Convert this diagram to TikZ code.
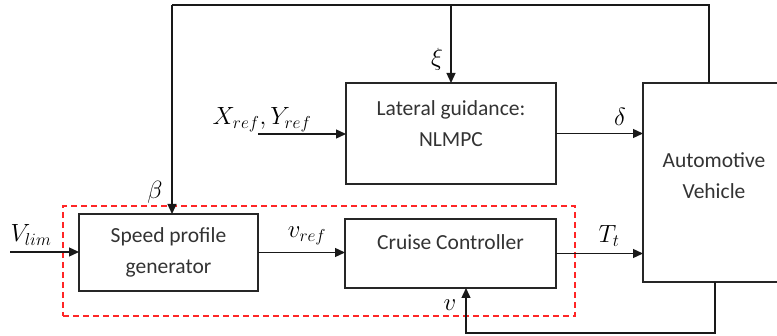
\documentclass[tikz,border=0pt]{standalone}
\usepackage{fontspec}
\setmainfont{Carlito}
\usetikzlibrary{arrows.meta}
\begin{document}
\begin{tikzpicture}[x=1pt,y=-1pt,
  line width=1.3pt,
  every node/.style={inner sep=0pt,outer sep=0pt},
  blk/.style={draw=black!85,line width=1.3pt,rectangle},
  txt/.style={font=\fontsize{21.5}{31}\selectfont,text=black!80,align=center},
  lbl/.style={font=\fontsize{23}{26}\selectfont},
  conn/.style={draw=black!90,line width=1.3pt},
  arr/.style={conn,-{Triangle[length=10pt,width=9pt]}},
  redbox/.style={draw=red!85!white,line width=1.6pt,dash pattern=on 6pt off 4pt}]
\useasboundingbox (0,0) rectangle (777,336);
\clip (0,0) rectangle (777,336);
% blocks
\node[blk,minimum width=179pt,minimum height=77pt,txt] (speed) at (168.5,252.5) {Speed profile\\generator};
\node[blk,minimum width=211pt,minimum height=69pt] (cruise) at (450.5,253.5) {};
\node[blk,minimum width=210pt,minimum height=101pt] (lat) at (451,133.5) {};
\node[blk,minimum width=150pt,minimum height=199pt] (veh) at (718,182.5) {};
\node[txt] (cruisetxt) at (450.5,242) {Cruise Controller};
\node[txt] (lattxt) at (451,124) {Lateral guidance:\\NLMPC};
\node[txt] (vehtxt) at (714,176) {Automotive\\Vehicle};
% dashed group
\node[redbox,minimum width=512pt,minimum height=110pt] (grp) at (319,261) {};
% coordinates
\coordinate (vin) at (10,252);
\coordinate (xin) at (258,134);
\coordinate (tl) at (172,5);
\coordinate (tr) at (709,5);
\coordinate (fbr) at (715,333);
\coordinate (fbl) at (466,333);
% connectors
\draw[arr] (vin) -- (vin -| speed.west);
\draw[arr] (speed.east) -- (speed.east -| cruise.west);
\draw[arr] (cruise.east) -- (cruise.east -| veh.west);
\draw[arr] (xin) -- (xin -| lat.west);
\draw[arr] (lat.east) -- (lat.east -| veh.west);
\draw[conn] (tr |- veh.north) -- (tr) -- (tl);
\draw[arr] (tl) -- (tl |- speed.north);
\draw[arr] (lat.north |- tl) -- (lat.north);
\draw[arr] (fbr |- veh.south) -- (fbr) -- (fbl) -- (fbl |- cruise.south);
% labels
\node[lbl] (lvlim) at (31,235) {$V_{lim}$};
\node[lbl] (lbeta) at (155,192) {$\beta$};
\node[lbl] (lvref) at (307,236) {$v_{ref}$};
\node[lbl] (ltt) at (609,236) {$T_t$};
\node[lbl] (lv) at (450,305) {$v$};
\node[lbl] (lxi) at (437,59) {$\xi$};
\node[lbl] (ldelta) at (620,117) {$\delta$};
\node[lbl] (lxy) at (262,120) {$X_{ref},Y_{ref}$};
\end{tikzpicture}
\end{document}
